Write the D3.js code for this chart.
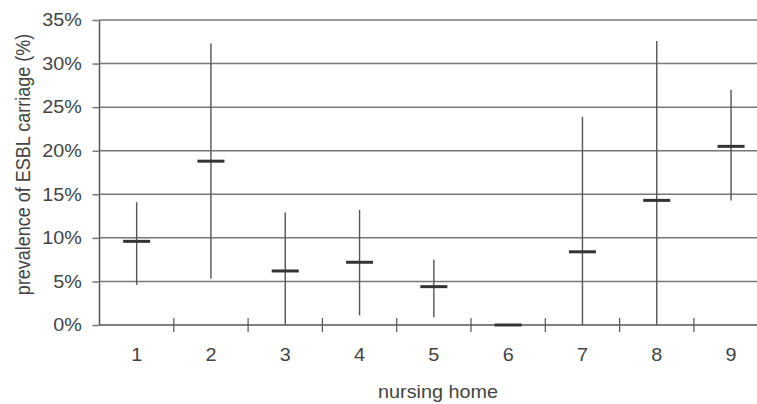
<!DOCTYPE html>
<html>
<head>
<meta charset="utf-8">
<script src="https://cdn.jsdelivr.net/npm/d3@7.9.0/dist/d3.min.js"></script>
<style>
  body { margin: 0; background: #fff; }
  text { font-family: "Liberation Sans", Arial, sans-serif; fill: #444; }
</style>
</head>
<body>
<div id="chart"></div>
<script>
// nursing homes and ESBL prevalence (point estimate + 95% CI)
const homes = ['1', '2', '3', '4', '5', '6', '7', '8', '9'];
const prevalence = [0.096, 0.188, 0.062, 0.072, 0.044, 0.0, 0.084, 0.143, 0.205];
const ciLow = [0.046, 0.053, 0.0, 0.011, 0.009, 0.0, 0.0, 0.0, 0.143];
const ciHigh = [0.141, 0.323, 0.129, 0.132, 0.075, 0.0, 0.239, 0.326, 0.270];
const yTicks = [0, 0.05, 0.10, 0.15, 0.20, 0.25, 0.30, 0.35];

const width = 757;
const height = 404;
const plotLeft = 99.5;
const plotBottom = 325;
const plotTop = 20;
const stretch = 1.1; // text in the original is a bit wider than tall

const rows = homes.map((h, i) => ({
  home: h,
  value: prevalence[i],
  lo: ciLow[i],
  hi: ciHigh[i],
}));

const svg = d3.select('#chart')
  .append('svg')
  .attr('width', width)
  .attr('height', height);

const xScale = d3.scaleBand()
  .domain(homes)
  .range([plotLeft, plotLeft + 9 * 74.3])
  .padding(0);

const yScale = d3.scaleLinear()
  .domain([0, 0.35])
  .range([plotBottom, plotTop]);

const cx = (d) => xScale(d) + xScale.bandwidth() / 2;

// gridlines
svg.append('g')
  .attr('class', 'gridlines')
  .selectAll('line')
  .data(yTicks.filter((d) => d > 0))
  .join('line')
  .attr('x1', plotLeft)
  .attr('x2', width)
  .attr('y1', (d) => yScale(d))
  .attr('y2', (d) => yScale(d))
  .attr('stroke', '#777')
  .attr('stroke-width', 1.5);

// y axis
const yAxis = svg.append('g')
  .attr('transform', `translate(${plotLeft},0)`)
  .call(d3.axisLeft(yScale)
    .tickValues(yTicks)
    .tickFormat((d) => Math.round(d * 100) + '%')
    .tickSize(7)
    .tickPadding(9));
yAxis.select('.domain')
  .attr('d', `M0,${plotTop}V${plotBottom}`)
  .attr('stroke', '#555')
  .attr('stroke-width', 1.5);
yAxis.selectAll('.tick line').attr('stroke', '#777').attr('stroke-width', 1.5);
yAxis.selectAll('.tick text')
  .attr('transform', `scale(${stretch},1)`)
  .style('font-size', '18px')
  .attr('fill', '#444');

// x axis baseline and separator ticks
const xg = svg.append('g').attr('class', 'x-axis');
xg.append('line')
  .attr('x1', plotLeft)
  .attr('x2', width)
  .attr('y1', plotBottom)
  .attr('y2', plotBottom)
  .attr('stroke', '#555')
  .attr('stroke-width', 1.5);

xg.selectAll('line.sep')
  .data(homes.slice(1))
  .join('line')
  .attr('class', 'sep')
  .attr('x1', (d) => xScale(d))
  .attr('x2', (d) => xScale(d))
  .attr('y1', plotBottom - 7)
  .attr('y2', plotBottom + 7)
  .attr('stroke', '#555')
  .attr('stroke-width', 1.2);

xg.selectAll('text')
  .data(homes)
  .join('text')
  .attr('transform', (d) => `translate(${cx(d)},361) scale(${stretch},1)`)
  .attr('text-anchor', 'middle')
  .style('font-size', '18px')
  .text((d) => d);

// confidence intervals
svg.append('g')
  .selectAll('line')
  .data(rows.filter((d) => d.hi > d.lo))
  .join('line')
  .attr('x1', (d) => cx(d.home))
  .attr('x2', (d) => cx(d.home))
  .attr('y1', (d) => yScale(d.lo))
  .attr('y2', (d) => yScale(d.hi))
  .attr('stroke', '#555')
  .attr('stroke-width', 1.4);

// point estimates
svg.append('g')
  .selectAll('line')
  .data(rows)
  .join('line')
  .attr('x1', (d) => cx(d.home) - 13.5)
  .attr('x2', (d) => cx(d.home) + 13.5)
  .attr('y1', (d) => yScale(d.value))
  .attr('y2', (d) => yScale(d.value))
  .attr('stroke', '#333')
  .attr('stroke-width', 3);

// axis titles
svg.append('text')
  .attr('transform', `translate(438,398) scale(${stretch},1)`)
  .attr('text-anchor', 'middle')
  .style('font-size', '18px')
  .text('nursing home');

svg.append('text')
  .attr('transform', `translate(30,164.5) scale(${stretch},1) rotate(-90)`)
  .attr('text-anchor', 'middle')
  .style('font-size', '18px')
  .text('prevalence of ESBL carriage (%)');
</script>
</body>
</html>
